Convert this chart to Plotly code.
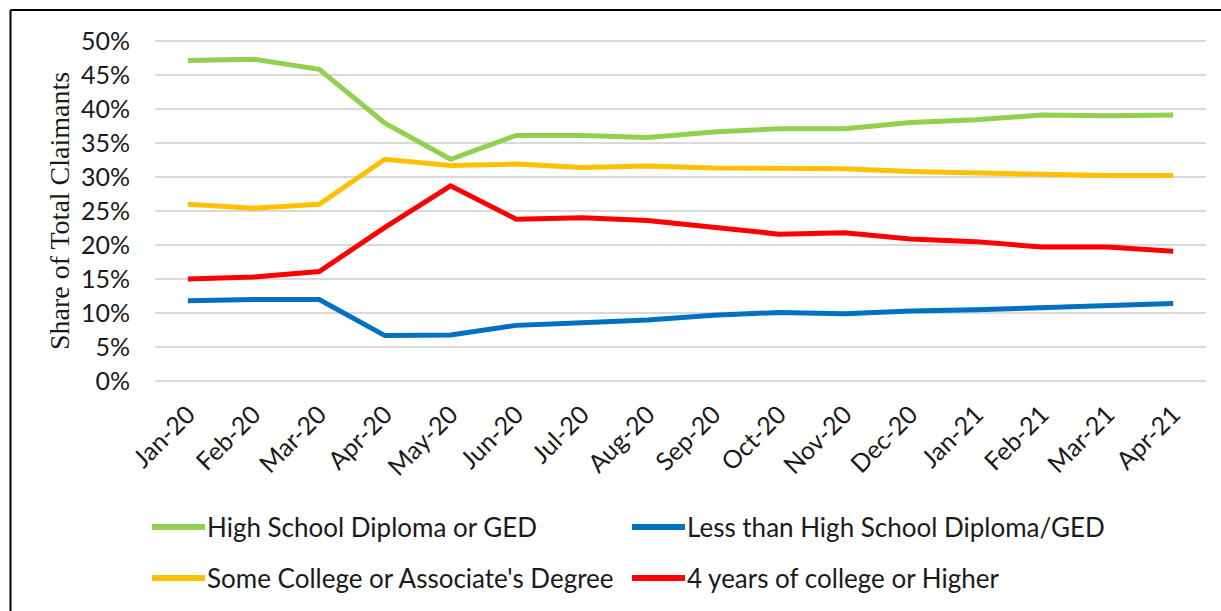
import plotly.graph_objects as go

# Monthly share of total claimants by education level (percent)
months = ["Jan-20", "Feb-20", "Mar-20", "Apr-20", "May-20", "Jun-20", "Jul-20", "Aug-20",
          "Sep-20", "Oct-20", "Nov-20", "Dec-20", "Jan-21", "Feb-21", "Mar-21", "Apr-21"]
high_school = [47.1, 47.3, 45.8, 37.9, 32.6, 36.1, 36.1, 35.8, 36.6, 37.1, 37.1, 38.0, 38.4, 39.1, 39.0, 39.1]
less_than_hs = [11.8, 12.0, 12.0, 6.7, 6.8, 8.2, 8.6, 9.0, 9.7, 10.1, 9.9, 10.3, 10.5, 10.8, 11.2, 11.4]
some_college = [26.0, 25.4, 26.0, 32.6, 31.7, 31.9, 31.4, 31.6, 31.3, 31.2, 31.2, 30.8, 30.6, 30.4, 30.2, 30.2]
four_years = [15.0, 15.3, 16.1, 22.6, 28.7, 23.8, 24.0, 23.6, 22.6, 21.6, 21.8, 20.9, 20.5, 19.7, 19.7, 19.1]
y_ticks = [0, 5, 10, 15, 20, 25, 30, 35, 40, 45, 50]

series = [
    ("High School Diploma or GED", high_school, "#92D050"),
    ("Less than High School Diploma/GED", less_than_hs, "#0070C0"),
    ("Some College or Associate's Degree", some_college, "#FFC000"),
    ("4 years of college or Higher", four_years, "#FF0000"),
]

W, H = 1221, 611
ML, MR, MT, MB = 155, 15, 34, 223
pw, ph = W - ML - MR, H - MT - MB

def px_x(x):
    return (x - ML) / pw

def px_y(y):
    return (H - MB - y) / ph

TICK_FONT = "Lato, Carlito, Calibri, sans-serif"

fig = go.Figure()
for name, vals, color in series:
    fig.add_trace(go.Scatter(
        x=list(range(len(months))), y=vals, name=name, mode="lines",
        line=dict(color=color, width=5), showlegend=False,
    ))

fig.update_layout(
    width=W, height=H,
    margin=dict(l=ML, r=MR, t=MT, b=MB, pad=0),
    paper_bgcolor="white", plot_bgcolor="white",
    xaxis=dict(
        range=[-0.5, len(months) - 0.5],
        tickmode="array", tickvals=list(range(len(months))), ticktext=months,
        tickangle=-45, showgrid=False, zeroline=False, showline=False,
        ticks="", tickfont=dict(family=TICK_FONT, size=25, color="#1a1a1a"),
        ticklabelstandoff=6,
    ),
    yaxis=dict(
        range=[-1, 51], tickmode="array", tickvals=y_ticks,
        ticktext=[f"{v}%" for v in y_ticks],
        showgrid=True, gridcolor="#D9D9D9", gridwidth=1.5,
        zeroline=False, showline=False, ticks="",
        tickfont=dict(family=TICK_FONT, size=25, color="#1a1a1a"),
        ticklabelstandoff=24,
        title=dict(text="Share of Total Claimants",
                   font=dict(family="Liberation Serif, Times New Roman, serif", size=28, color="#1a1a1a"),
                   standoff=3),
    ),
)

# Outer frame (left and top edges)
fig.add_shape(type="line", xref="paper", yref="paper",
              x0=px_x(10.5), x1=px_x(10.5), y0=px_y(H + 5), y1=px_y(10),
              line=dict(color="black", width=2))
fig.add_shape(type="line", xref="paper", yref="paper",
              x0=px_x(10.5), x1=px_x(W + 5), y0=px_y(10), y1=px_y(10),
              line=dict(color="black", width=2))

# Legend: two rows, two columns
legend_pos = [(152, 527), (632, 527), (152, 578), (632, 578)]
for (name, vals, color), (lx, ly) in zip(series, legend_pos):
    fig.add_shape(type="line", xref="paper", yref="paper",
                  x0=px_x(lx), x1=px_x(lx + 53), y0=px_y(ly), y1=px_y(ly),
                  line=dict(color=color, width=6))
    fig.add_annotation(xref="paper", yref="paper", x=px_x(lx + 53), y=px_y(ly),
                       xanchor="left", yanchor="middle", showarrow=False,
                       text=name, font=dict(family=TICK_FONT, size=26, color="#1a1a1a"))

fig.write_html("out.html")
